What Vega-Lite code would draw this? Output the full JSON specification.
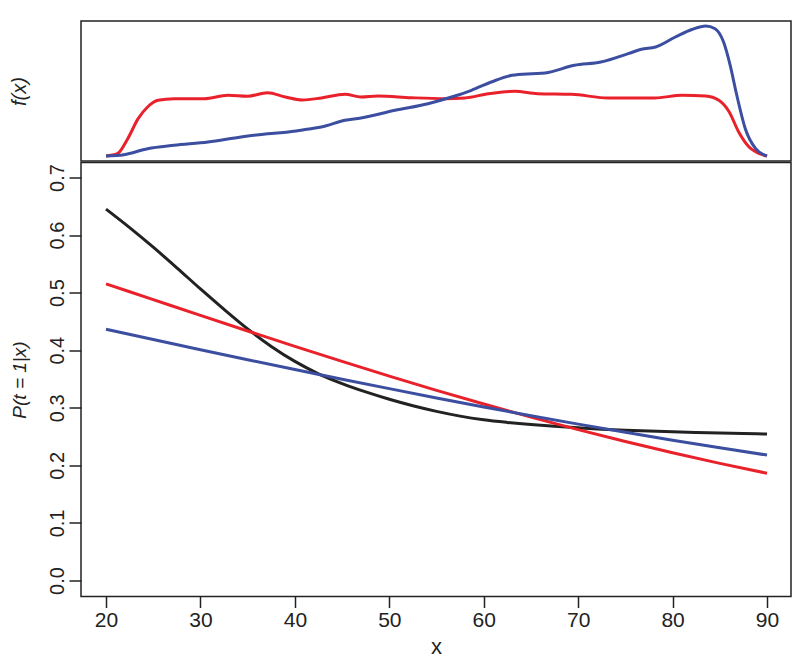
{
  "$schema": "https://vega.github.io/schema/vega-lite/v6.json",
  "padding": {"left": 8, "top": 19, "right": 10, "bottom": 5},
  "background": "white",
  "config": {
    "view": {"stroke": "#222222", "strokeWidth": 1.5},
    "font": "Liberation Sans",
    "axis": {
      "grid": false,
      "domain": false,
      "tickColor": "#222222",
      "tickWidth": 1.5,
      "labelFont": "Liberation Sans",
      "labelFontSize": 20,
      "labelColor": "#222222",
      "titleFont": "Liberation Sans",
      "titleFontSize": 19,
      "titleFontWeight": "normal",
      "titleColor": "#222222"
    }
  },
  "spacing": 1.5,
  "bounds": "flush",
  "resolve": {"scale": {"color": "independent"}},
  "datasets": {
    "dens": [
      {"x": 20, "f": 0, "sample": "red"},
      {"x": 21.2, "f": 0.00058, "sample": "red"},
      {"x": 22.3, "f": 0.00433, "sample": "red"},
      {"x": 23.4, "f": 0.00933, "sample": "red"},
      {"x": 24.4, "f": 0.01225, "sample": "red"},
      {"x": 25.5, "f": 0.01393, "sample": "red"},
      {"x": 27.2, "f": 0.01433, "sample": "red"},
      {"x": 30.4, "f": 0.01433, "sample": "red"},
      {"x": 32.9, "f": 0.01518, "sample": "red"},
      {"x": 35.0, "f": 0.01493, "sample": "red"},
      {"x": 37.1, "f": 0.01583, "sample": "red"},
      {"x": 39.0, "f": 0.01475, "sample": "red"},
      {"x": 40.8, "f": 0.0140, "sample": "red"},
      {"x": 42.8, "f": 0.0145, "sample": "red"},
      {"x": 45.3, "f": 0.01543, "sample": "red"},
      {"x": 47.0, "f": 0.01475, "sample": "red"},
      {"x": 48.8, "f": 0.0150, "sample": "red"},
      {"x": 52.3, "f": 0.01458, "sample": "red"},
      {"x": 55.9, "f": 0.01433, "sample": "red"},
      {"x": 58.0, "f": 0.0145, "sample": "red"},
      {"x": 60.5, "f": 0.01558, "sample": "red"},
      {"x": 63.3, "f": 0.01618, "sample": "red"},
      {"x": 65.7, "f": 0.01558, "sample": "red"},
      {"x": 69.3, "f": 0.01543, "sample": "red"},
      {"x": 73.2, "f": 0.0145, "sample": "red"},
      {"x": 78.1, "f": 0.0145, "sample": "red"},
      {"x": 81.0, "f": 0.01518, "sample": "red"},
      {"x": 83.5, "f": 0.0150, "sample": "red"},
      {"x": 84.9, "f": 0.01393, "sample": "red"},
      {"x": 86.0, "f": 0.0110, "sample": "red"},
      {"x": 87.0, "f": 0.0060, "sample": "red"},
      {"x": 88.1, "f": 0.00225, "sample": "red"},
      {"x": 89.2, "f": 0.00058, "sample": "red"},
      {"x": 90, "f": 0, "sample": "red"},
      {"x": 20, "f": 0, "sample": "blue"},
      {"x": 21.9, "f": 0.00033, "sample": "blue"},
      {"x": 24.4, "f": 0.00183, "sample": "blue"},
      {"x": 27.2, "f": 0.00268, "sample": "blue"},
      {"x": 30.8, "f": 0.0035, "sample": "blue"},
      {"x": 34.3, "f": 0.00475, "sample": "blue"},
      {"x": 37.1, "f": 0.00558, "sample": "blue"},
      {"x": 39.3, "f": 0.0060, "sample": "blue"},
      {"x": 41.7, "f": 0.00683, "sample": "blue"},
      {"x": 42.8, "f": 0.00725, "sample": "blue"},
      {"x": 45.3, "f": 0.00893, "sample": "blue"},
      {"x": 47.0, "f": 0.0095, "sample": "blue"},
      {"x": 50.6, "f": 0.01143, "sample": "blue"},
      {"x": 54.1, "f": 0.01308, "sample": "blue"},
      {"x": 56.6, "f": 0.01475, "sample": "blue"},
      {"x": 58.7, "f": 0.01643, "sample": "blue"},
      {"x": 60.8, "f": 0.0185, "sample": "blue"},
      {"x": 63.0, "f": 0.02018, "sample": "blue"},
      {"x": 65.1, "f": 0.02058, "sample": "blue"},
      {"x": 66.5, "f": 0.02075, "sample": "blue"},
      {"x": 69.6, "f": 0.02268, "sample": "blue"},
      {"x": 72.4, "f": 0.0235, "sample": "blue"},
      {"x": 75.3, "f": 0.02558, "sample": "blue"},
      {"x": 76.7, "f": 0.02668, "sample": "blue"},
      {"x": 78.2, "f": 0.02725, "sample": "blue"},
      {"x": 80.3, "f": 0.02975, "sample": "blue"},
      {"x": 82.1, "f": 0.03168, "sample": "blue"},
      {"x": 83.5, "f": 0.0325, "sample": "blue"},
      {"x": 84.5, "f": 0.03183, "sample": "blue"},
      {"x": 85.4, "f": 0.0285, "sample": "blue"},
      {"x": 86.1, "f": 0.02268, "sample": "blue"},
      {"x": 86.8, "f": 0.01518, "sample": "blue"},
      {"x": 87.7, "f": 0.00683, "sample": "blue"},
      {"x": 88.8, "f": 0.00183, "sample": "blue"},
      {"x": 90, "f": 0, "sample": "blue"}
    ],
    "prob": [
      {"x": 20, "p": 0.645, "model": "black"},
      {"x": 22.5, "p": 0.6129, "model": "black"},
      {"x": 25, "p": 0.5789, "model": "black"},
      {"x": 27.5, "p": 0.5431, "model": "black"},
      {"x": 30, "p": 0.5064, "model": "black"},
      {"x": 32.5, "p": 0.4710, "model": "black"},
      {"x": 35, "p": 0.4370, "model": "black"},
      {"x": 37.5, "p": 0.4065, "model": "black"},
      {"x": 40, "p": 0.3805, "model": "black"},
      {"x": 42.5, "p": 0.3590, "model": "black"},
      {"x": 45, "p": 0.3420, "model": "black"},
      {"x": 47.5, "p": 0.3275, "model": "black"},
      {"x": 50, "p": 0.3148, "model": "black"},
      {"x": 52.5, "p": 0.3035, "model": "black"},
      {"x": 55, "p": 0.2937, "model": "black"},
      {"x": 57.5, "p": 0.2855, "model": "black"},
      {"x": 60, "p": 0.2792, "model": "black"},
      {"x": 62.5, "p": 0.2746, "model": "black"},
      {"x": 65, "p": 0.2708, "model": "black"},
      {"x": 67.5, "p": 0.2677, "model": "black"},
      {"x": 70, "p": 0.2651, "model": "black"},
      {"x": 72.5, "p": 0.2628, "model": "black"},
      {"x": 75, "p": 0.2610, "model": "black"},
      {"x": 77.5, "p": 0.2595, "model": "black"},
      {"x": 80, "p": 0.2582, "model": "black"},
      {"x": 82.5, "p": 0.2571, "model": "black"},
      {"x": 85, "p": 0.2561, "model": "black"},
      {"x": 87.5, "p": 0.2552, "model": "black"},
      {"x": 90, "p": 0.2544, "model": "black"},
      {"x": 20, "p": 0.5153, "model": "red"},
      {"x": 25, "p": 0.4879, "model": "red"},
      {"x": 30, "p": 0.4605, "model": "red"},
      {"x": 35, "p": 0.4334, "model": "red"},
      {"x": 40, "p": 0.4067, "model": "red"},
      {"x": 45, "p": 0.3805, "model": "red"},
      {"x": 50, "p": 0.3550, "model": "red"},
      {"x": 55, "p": 0.3303, "model": "red"},
      {"x": 60, "p": 0.3065, "model": "red"},
      {"x": 65, "p": 0.2837, "model": "red"},
      {"x": 70, "p": 0.2620, "model": "red"},
      {"x": 75, "p": 0.2413, "model": "red"},
      {"x": 80, "p": 0.2218, "model": "red"},
      {"x": 85, "p": 0.2034, "model": "red"},
      {"x": 90, "p": 0.1862, "model": "red"},
      {"x": 20, "p": 0.4365, "model": "blue"},
      {"x": 25, "p": 0.4186, "model": "blue"},
      {"x": 30, "p": 0.4009, "model": "blue"},
      {"x": 35, "p": 0.3835, "model": "blue"},
      {"x": 40, "p": 0.3664, "model": "blue"},
      {"x": 45, "p": 0.3496, "model": "blue"},
      {"x": 50, "p": 0.3332, "model": "blue"},
      {"x": 55, "p": 0.3171, "model": "blue"},
      {"x": 60, "p": 0.3015, "model": "blue"},
      {"x": 65, "p": 0.2863, "model": "blue"},
      {"x": 70, "p": 0.2716, "model": "blue"},
      {"x": 75, "p": 0.2574, "model": "blue"},
      {"x": 80, "p": 0.2437, "model": "blue"},
      {"x": 85, "p": 0.2305, "model": "blue"},
      {"x": 90, "p": 0.2178, "model": "blue"}
    ]
  },
  "vconcat": [
    {
      "width": 710,
      "height": 140,
      "data": {"name": "dens"},
      "mark": {"type": "line", "strokeWidth": 3, "interpolate": "monotone"},
      "encoding": {
        "x": {"field": "x", "type": "quantitative", "scale": {"domain": [17.35, 92.54], "nice": false, "zero": false}, "axis": null},
        "y": {"field": "f", "type": "quantitative", "scale": {"domain": [-0.00125, 0.03375], "nice": false, "zero": false},
              "axis": {"title": "f(x)", "labels": false, "ticks": false, "titleFontStyle": "italic", "titleFontSize": 20, "titlePadding": 52}},
        "color": {"field": "sample", "type": "nominal", "scale": {"domain": ["red", "blue"], "range": ["#e8212b", "#3b4ea0"]}, "legend": null}
      }
    },
    {
      "width": 710,
      "height": 434,
      "data": {"name": "prob"},
      "mark": {"type": "line", "strokeWidth": 3, "interpolate": "monotone"},
      "encoding": {
        "x": {"field": "x", "type": "quantitative", "scale": {"domain": [17.35, 92.54], "nice": false, "zero": false},
              "axis": {"title": "x", "values": [20, 30, 40, 50, 60, 70, 80, 90], "tickSize": 11, "labelPadding": 2, "labelFontSize": 21, "titleFontSize": 22, "titlePadding": 6}},
        "y": {"field": "p", "type": "quantitative", "scale": {"domain": [-0.0278, 0.726], "nice": false, "zero": false},
              "axis": {"title": "P(t = 1|x)", "titleFontStyle": "italic", "values": [0, 0.1, 0.2, 0.3, 0.4, 0.5, 0.6, 0.7], "format": ".1f", "labelAngle": 270, "tickSize": 12, "labelPadding": 2, "titlePadding": 18}},
        "color": {"field": "model", "type": "nominal", "scale": {"domain": ["black", "red", "blue"], "range": ["#222222", "#e8212b", "#3b4ea0"]}, "legend": null}
      }
    }
  ]
}
